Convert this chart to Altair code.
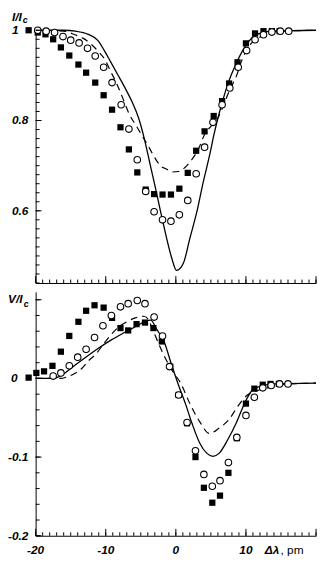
import altair as alt
import pandas as pd

# ---------------- data ----------------
# Top panel (I/Ic)
top_sq_x = [-21.0, -19.7, -18.6, -17.5, -16.4, -15.2, -13.9, -12.8, -11.5, -10.3, -9.1, -7.9,
            -6.7, -5.5, -4.3, -3.1, -1.9, -0.7, 0.5, 1.7, 2.9, 4.1, 5.4, 6.6, 7.6, 8.8, 10.0,
            11.3, 12.5, 13.7, 14.8]
top_sq_y = [1.0, 0.995, 0.991, 0.980, 0.962, 0.944, 0.924, 0.906, 0.884, 0.856, 0.824, 0.785,
            0.736, 0.685, 0.647, 0.637, 0.636, 0.636, 0.649, 0.684, 0.733, 0.776, 0.810, 0.843,
            0.882, 0.929, 0.971, 0.993, 0.998, 0.998, 0.998]

top_ci_x = [-19.7, -18.5, -17.3, -16.1, -15.0, -13.8, -12.6, -11.5, -10.3, -9.1, -7.8, -6.7,
            -5.5, -4.3, -3.1, -1.9, -0.7, 0.5, 1.7, 2.9, 4.1, 5.3, 6.6, 7.7, 8.9, 10.1, 11.3,
            12.5, 13.7, 14.9, 16.1]
top_ci_y = [1.0, 0.998, 0.995, 0.986, 0.978, 0.972, 0.960, 0.943, 0.918, 0.884, 0.835, 0.781,
            0.713, 0.643, 0.598, 0.580, 0.577, 0.591, 0.623, 0.682, 0.741, 0.796, 0.835, 0.872,
            0.918, 0.955, 0.979, 0.990, 0.996, 0.998, 0.998]

top_solid_x = [-20, -16, -14.3, -12.5, -11.1, -10.2, -9.3, -8.3, -7.1, -6.2, -5.3, -4.5, -3.8,
               -3.0, -2.2, -1.4, -0.6, 0.1, 1.1, 2.0, 3.0, 3.9, 4.8, 5.5, 6.0, 6.7, 7.6, 8.6,
               9.8, 10.9, 12.4, 13.7, 20]
top_solid_y = [1.0, 1.0, 0.998, 0.991, 0.977, 0.955, 0.930, 0.902, 0.868, 0.840, 0.805, 0.760,
               0.712, 0.657, 0.600, 0.545, 0.496, 0.468, 0.485, 0.539, 0.598, 0.663, 0.722,
               0.773, 0.805, 0.845, 0.889, 0.926, 0.962, 0.984, 0.995, 0.998, 1.0]

top_dash_x = [-20, -16, -14.4, -13.2, -12.0, -11.0, -10.0, -9.5, -8.5, -7.4, -6.7, -5.6, -4.5,
              -3.8, -3.1, -2.2, -1.3, -0.6, 0.4, 1.3, 2.3, 3.2, 4.1, 5.0, 5.8, 6.7, 7.6, 8.6,
              9.5, 10.5, 12.4, 14.3, 20]
top_dash_y = [1.0, 0.998, 0.990, 0.982, 0.968, 0.952, 0.932, 0.915, 0.884, 0.843, 0.816, 0.787,
              0.758, 0.740, 0.720, 0.700, 0.692, 0.686, 0.687, 0.696, 0.714, 0.736, 0.769,
              0.787, 0.800, 0.830, 0.865, 0.897, 0.937, 0.966, 0.988, 0.997, 1.0]

# Bottom panel (V/Ic)
bot_sq_x = [-21.0, -19.9, -18.8, -17.6, -16.4, -15.2, -13.9, -12.8, -11.6, -10.3, -9.1, -7.9,
            -6.8, -5.6, -4.4, -3.2, -2.0, -0.8, 0.4, 1.6, 2.8, 4.0, 5.2, 6.3, 7.5, 8.7, 10.0,
            11.2, 12.4, 13.5, 14.7]
bot_sq_y = [0.001, 0.007, 0.009, 0.016, 0.034, 0.054, 0.072, 0.086, 0.093, 0.090, 0.077, 0.064,
            0.061, 0.069, 0.071, 0.064, 0.047, 0.015, -0.021, -0.057, -0.100, -0.139, -0.158,
            -0.149, -0.120, -0.076, -0.032, -0.013, -0.008, -0.007, -0.007]

bot_ci_x = [-17.5, -16.4, -15.2, -14.0, -12.8, -11.6, -10.4, -9.2, -7.9, -6.8, -5.5, -4.4, -3.1,
            -1.9, -0.9, 0.4, 1.6, 2.8, 4.0, 5.2, 6.3, 7.5, 8.7, 10.0, 11.2, 12.4, 13.6, 14.8, 16.0]
bot_ci_y = [0.003, 0.007, 0.016, 0.027, 0.037, 0.052, 0.067, 0.080, 0.091, 0.095, 0.099, 0.095,
            0.078, 0.054, 0.015, -0.021, -0.056, -0.092, -0.122, -0.137, -0.130, -0.107, -0.075,
            -0.047, -0.024, -0.012, -0.009, -0.007, -0.007]

bot_solid_x = [-20, -17.5, -16.5, -15.5, -14.5, -13.0, -11.1, -9.2, -7.4, -5.5, -4.3, -3.6, -2.7,
               -1.6, -0.7, 0.4, 1.4, 2.3, 3.4, 4.4, 5.3, 6.2, 7.4, 8.6, 10.0, 10.9, 12.4, 14.3, 20]
bot_solid_y = [0.0, 0.0, 0.003, 0.009, 0.016, 0.026, 0.038, 0.049, 0.058, 0.067, 0.073, 0.074,
               0.062, 0.045, 0.020, -0.009, -0.033, -0.057, -0.082, -0.095, -0.099, -0.095,
               -0.078, -0.057, -0.028, -0.015, -0.009, -0.007, -0.006]

bot_dash_x = [-20, -16.5, -15.5, -14.5, -13.5, -12.5, -11.3, -10.3, -9.2, -8.2, -7.0, -5.8, -4.6,
              -4.0, -3.3, -2.2, -0.8, 0.8, 2.0, 3.4, 4.8, 6.2, 7.6, 8.8, 10.2, 11.8, 14.2, 16.0, 20]
bot_dash_y = [0.0, 0.0, 0.002, 0.006, 0.012, 0.022, 0.032, 0.044, 0.056, 0.065, 0.072, 0.077,
              0.079, 0.076, 0.062, 0.039, 0.014, -0.008, -0.032, -0.055, -0.070, -0.063, -0.052,
              -0.036, -0.021, -0.015, -0.010, -0.007, -0.006]

# tick label texts
top_ylabel_vals = [1.0, 0.8, 0.6]
top_ylabel_txt = ["1", "0.8", "0.6"]
bot_ylabel_pos_vals = [0.0]
bot_ylabel_pos_txt = ["0"]
bot_ylabel_neg_vals = [-0.1, -0.2]
bot_ylabel_neg_txt = ["-0.1", "-0.2"]
xlabel_vals = [-20, -10, 0, 10]
xlabel_txt = ["-20", "-10", "0", "10"]

# tick positions
x_minor = [v for v in range(-20, 21)]
x_major = [-20, -10, 0, 10, 20]
top_y_minor = [round(0.44 + 0.02 * i, 2) for i in range(29)]
top_y_major = [0.6, 0.8, 1.0]
bot_y_minor = [round(-0.2 + 0.02 * i, 2) for i in range(16)]
bot_y_major = [-0.2, -0.1, 0.0, 0.1]

# ---------------- chart ----------------
W = 284
H_TOP = 256
H_BOT = 247
FONT = "Liberation Sans"

xscale = alt.Scale(domain=[-20, 20], nice=False, zero=False)
ytop = alt.Scale(domain=[0.44, 1.0], nice=False, zero=False)
ybot = alt.Scale(domain=[-0.2, 0.11], nice=False, zero=False)

ax = alt.Axis(labels=False, ticks=False, grid=False, title=None,
              domainColor="black", domainWidth=1)


def xy_df(xs, ys):
    return pd.DataFrame({"x": xs, "y": ys})


def panel(sq, ci, solid, dashed, yscale, height, yminor, ymajor):
    X = alt.X("x:Q", scale=xscale, axis=ax)
    Y = alt.Y("y:Q", scale=yscale, axis=ax)
    layers = []
    layers.append(alt.Chart(xy_df(*solid)).mark_line(
        color="black", strokeWidth=1.3, interpolate="monotone").encode(x=X, y=Y))
    layers.append(alt.Chart(xy_df(*dashed)).mark_line(
        color="black", strokeWidth=1.2, strokeDash=[7, 5], interpolate="monotone").encode(x=X, y=Y))
    layers.append(alt.Chart(xy_df(*sq)).mark_square(
        size=40, color="black", opacity=1).encode(x=X, y=Y))
    layers.append(alt.Chart(xy_df(*ci)).mark_point(
        shape="circle", size=44, filled=True, fill="white", stroke="black",
        strokeWidth=1.1, opacity=1).encode(x=X, y=Y))
    # inward ticks on the left axis
    layers.append(alt.Chart(pd.DataFrame({"v": yminor})).mark_rule(
        color="black", strokeWidth=1).encode(
        y=alt.Y("v:Q", scale=yscale, axis=ax), x=alt.value(0), x2=alt.value(4)))
    layers.append(alt.Chart(pd.DataFrame({"v": ymajor})).mark_rule(
        color="black", strokeWidth=1).encode(
        y=alt.Y("v:Q", scale=yscale, axis=ax), x=alt.value(0), x2=alt.value(6)))
    # inward ticks on the bottom axis
    layers.append(alt.Chart(pd.DataFrame({"v": x_minor})).mark_rule(
        color="black", strokeWidth=1).encode(
        x=alt.X("v:Q", scale=xscale, axis=ax), y=alt.value(height), y2=alt.value(height - 3.5)))
    layers.append(alt.Chart(pd.DataFrame({"v": x_major})).mark_rule(
        color="black", strokeWidth=1).encode(
        x=alt.X("v:Q", scale=xscale, axis=ax), y=alt.value(height), y2=alt.value(height - 7)))
    return layers


def label_layer(vals, txts, yscale, xpos):
    return alt.Chart(pd.DataFrame({"v": vals, "t": txts})).mark_text(
        align="left", baseline="middle", font=FONT, fontSize=12, fontStyle="italic",
        fontWeight="bold", color="black").encode(
        y=alt.Y("v:Q", scale=yscale, axis=ax), x=alt.value(xpos), text="t:N")


def free_text(txt, x, y, size=12, style="italic", weight="bold", baseline="alphabetic"):
    return alt.Chart(pd.DataFrame({"t": [txt]})).mark_text(
        align="left", baseline=baseline, font=FONT, fontSize=size, fontStyle=style,
        fontWeight=weight, color="black").encode(x=alt.value(x), y=alt.value(y), text="t:N")


top_layers = panel((top_sq_x, top_sq_y), (top_ci_x, top_ci_y), (top_solid_x, top_solid_y),
                   (top_dash_x, top_dash_y), ytop, H_TOP, top_y_minor, top_y_major)
top_layers.append(label_layer(top_ylabel_vals, top_ylabel_txt, ytop, -24))
top_layers.append(free_text("I/I", -24, -18, baseline="top"))
top_layers.append(free_text("c", -13, -14, size=9, baseline="top"))
top = alt.layer(*top_layers).properties(width=W, height=H_TOP)

bot_layers = panel((bot_sq_x, bot_sq_y), (bot_ci_x, bot_ci_y), (bot_solid_x, bot_solid_y),
                   (bot_dash_x, bot_dash_y), ybot, H_BOT, bot_y_minor, bot_y_major)
bot_layers.append(label_layer(bot_ylabel_pos_vals, bot_ylabel_pos_txt, ybot, -25))
bot_layers.append(label_layer(bot_ylabel_neg_vals, bot_ylabel_neg_txt, ybot, -28))
bot_layers.append(free_text("V/I", -28, 11))
bot_layers.append(free_text("c", -12, 15, size=9))
bot_layers.append(alt.Chart(pd.DataFrame({"v": xlabel_vals, "t": xlabel_txt})).mark_text(
    align="center", baseline="alphabetic", font=FONT, fontSize=12, fontStyle="italic",
    fontWeight="bold", color="black").encode(
    x=alt.X("v:Q", scale=xscale, axis=ax), y=alt.value(H_BOT + 18), text="t:N"))
bot_layers.append(free_text("\u0394\u03bb", 232, H_BOT + 18))
bot_layers.append(free_text(", pm", 248, H_BOT + 18, style="normal", weight="normal"))
bottom = alt.layer(*bot_layers).properties(width=W, height=H_BOT)

chart = alt.vconcat(top, bottom, spacing=8).properties(padding=0).configure_view(stroke=None)

chart.save("out.html", embed_options={"renderer": "svg", "actions": False})
